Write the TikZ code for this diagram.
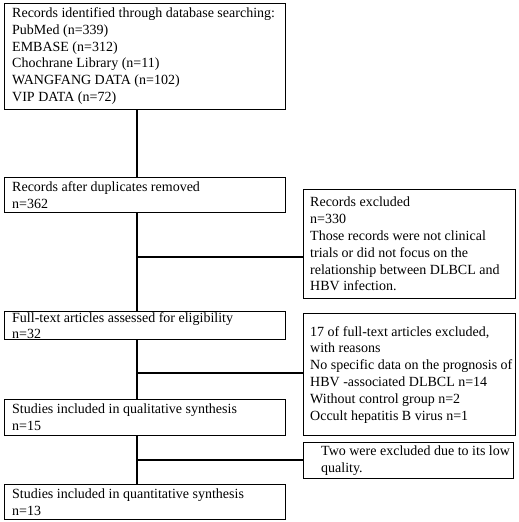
\documentclass[tikz,border=0pt]{standalone}
\usepackage{fontspec}
\setmainfont{Liberation Serif}
\begin{document}
\begin{tikzpicture}[x=1pt,y=-1pt,
  boxs/.style={draw, line width=1.2pt, anchor=north west, inner sep=0pt, minimum width=#1},
  txt/.style={anchor=west, align=left, inner sep=0pt, font=\fontsize{14}{16.8}\selectfont},
  conn/.style={line width=1.2pt}]
\useasboundingbox (0,0) rectangle (519,522);
\node[boxs=281pt, minimum height=106pt] (b1) at (4,3) {};
\node[boxs=281pt, minimum height=35pt] (b2) at (4,177) {};
\node[boxs=212pt, minimum height=109pt] (e1) at (303,189) {};
\node[boxs=281pt, minimum height=28pt] (b3) at (4,311) {};
\node[boxs=212pt, minimum height=122pt] (e2) at (303,313) {};
\node[boxs=281pt, minimum height=36pt] (b4) at (4,399) {};
\node[boxs=210pt, minimum height=36pt] (e3) at (303,442) {};
\node[boxs=281pt, minimum height=35pt] (b5) at (4,484) {};

\node[txt] (t1) at ([xshift=8pt,yshift=0.5pt]b1.west) {Records identified through database searching:\\PubMed (n=339)\\EMBASE (n=312)\\Chochrane Library (n=11)\\WANGFANG DATA (n=102)\\VIP DATA (n=72)};
\node[txt] (t2) at ([xshift=8pt]b2.west) {Records after duplicates removed\\n=362};
\node[txt] (t3) at ([xshift=7pt]e1.west) {Records excluded\\n=330\\Those records were not clinical\\trials or did not focus on the\\relationship between DLBCL and\\HBV infection.};
\node[txt] (t4) at ([xshift=8pt]b3.west) {Full-text articles assessed for eligibility\\n=32};
\node[txt] (t5) at ([xshift=7pt]e2.west) {17 of full-text articles excluded,\\with reasons\\No specific data on the prognosis of\\HBV -associated DLBCL n=14\\Without control group n=2\\Occult hepatitis B virus n=1};
\node[txt] (t6) at ([xshift=8pt]b4.west) {Studies included in qualitative synthesis\\n=15};
\node[txt] (t7) at ([xshift=18pt]e3.west) {Two were excluded due to its low\\quality.};
\node[txt] (t8) at ([xshift=8pt]b5.west) {Studies included in quantitative synthesis\\n=13};

\coordinate (j1) at (137,257);
\coordinate (j2) at (137,373);
\coordinate (j3) at (137,460);
\draw[conn] (b1.south -| j1) -- (b2.north -| j1);
\draw[conn] (b2.south -| j1) -- (b3.north -| j1);
\draw[conn] (b3.south -| j1) -- (b4.north -| j1);
\draw[conn] (b4.south -| j1) -- (b5.north -| j1);
\draw[conn] (j1) -- (j1 -| e1.west);
\draw[conn] (j2) -- (j2 -| e2.west);
\draw[conn] (j3) -- (j3 -| e3.west);
\end{tikzpicture}
\end{document}
